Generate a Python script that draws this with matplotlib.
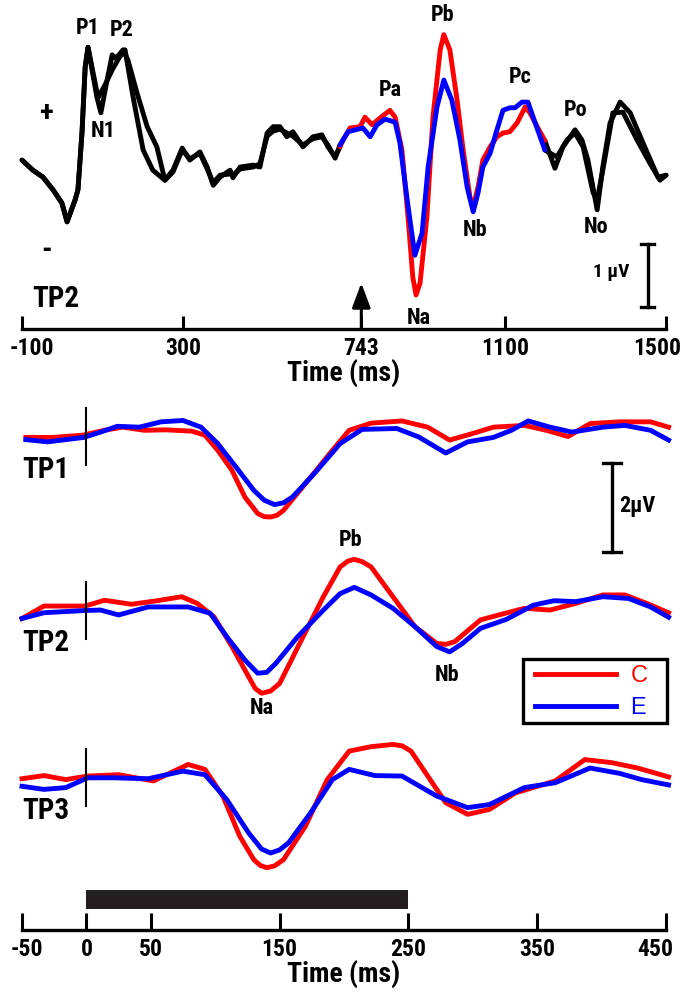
import matplotlib
matplotlib.use("Agg")
import matplotlib.pyplot as plt
import matplotlib.transforms as mtransforms
from matplotlib.patches import Rectangle
import numpy as np

plt.rcParams['font.family'] = ['Liberation Sans Narrow', 'Roboto Condensed', 'DejaVu Sans Condensed',
                               'Liberation Sans', 'DejaVu Sans']
plt.rcParams['font.weight'] = 'bold'

# ---------------- Top panel data (TP2, long epoch) ----------------
top_ticks = [-100, 300, 743, 1100, 1500]
top_C_t = [-100, -73, -48, -23, -1, 12, 32, 39, 49, 57, 64,
           86, 96, 109, 124, 131, 141, 151, 163, 186, 211, 235, 255,
           275, 298, 317, 342, 360, 375, 392, 417, 424, 442, 474, 491, 509, 524, 541, 558, 573, 598, 623, 645, 660, 678, 690,
           698, 715, 740, 752, 770, 784, 814, 827, 844, 859, 871, 879, 889, 906, 921, 939, 948, 963, 981, 996,
           1013, 1021, 1033, 1045, 1063, 1080, 1095, 1112, 1130, 1150, 1162, 1180, 1199,
           1224, 1244, 1274, 1291, 1306, 1329, 1343, 1361, 1386, 1411, 1443, 1480, 1500]
top_C_v = [-0.16, -0.32, -0.43, -0.63, -0.84, -1.14, -0.79, -0.63, 0.27, 1.32, 1.63,
           0.84, 0.59, 1.03, 1.51, 1.46, 1.51, 1.59, 1.43, 0.90, 0.37, 0.05, -0.48,
           -0.32, 0.03, -0.16, -0.03, -0.27, -0.56, -0.43, -0.32, -0.44, -0.27, -0.24, -0.27, 0.27, 0.37, 0.37, 0.21, 0.29, 0.05, 0.21, 0.24, 0.05, -0.11, 0.05,
           0.16, 0.35, 0.37, 0.52, 0.40, 0.48, 0.63, 0.52, 0.0, -1.06, -2.02, -2.30, -2.11, -1.06, 0.52, 1.59, 1.83, 1.59, 0.79, 0.0,
           -0.75, -0.90, -0.59, -0.16, 0.05, 0.21, 0.27, 0.29, 0.43, 0.68, 0.59, 0.37, 0.15,
           -0.29, 0.05, 0.32, 0.16, -0.16, -0.95, -0.27, 0.43, 0.76, 0.59, 0.11, -0.43, -0.40]
top_E_t = [-100, -73, -48, -23, -1, 12, 32, 39, 49, 57, 64,
           89, 106, 124, 141, 156, 176, 201, 225, 255,
           275, 298, 317, 342, 360, 375, 392, 417, 424, 442, 474, 491, 509, 524, 541, 558, 573, 598, 623, 645, 660, 678, 690,
           710, 747, 765, 782, 802, 827, 839, 857, 876, 894, 909, 931, 948, 968, 988, 1006, 1021, 1033, 1045,
           1063, 1080, 1095, 1112, 1125, 1142, 1157, 1170, 1199,
           1212, 1229, 1254, 1274, 1294, 1319, 1329, 1343, 1368, 1393, 1428, 1460, 1485, 1500]
top_E_v = [-0.16, -0.32, -0.43, -0.63, -0.84, -1.14, -0.79, -0.63, 0.27, 1.32, 1.63,
           0.83, 1.03, 1.27, 1.46, 1.59, 0.84, 0.0, -0.32, -0.48,
           -0.35, 0.0, -0.14, -0.05, -0.30, -0.52, -0.40, -0.38, -0.40, -0.30, -0.27, -0.22, 0.22, 0.30, 0.33, 0.27, 0.22, 0.08, 0.18, 0.21, 0.08, -0.13, 0.08,
           0.29, 0.35, 0.21, 0.40, 0.49, 0.44, 0.11, -0.79, -1.67, -1.32, -0.27, 0.68, 1.11, 0.79, 0.16, -0.59, -0.98, -0.68, -0.27,
           -0.05, 0.32, 0.63, 0.67, 0.67, 0.76, 0.76, 0.52, 0.0,
           -0.05, -0.11, 0.16, 0.27, 0.05, -0.68, -0.79, -0.32, 0.59, 0.60, 0.16, -0.21, -0.48, -0.40]
color_window = (690, 1199)

top_labels = ["P1", "P2", "N1", "Pa", "Pb", "Na", "Nb", "Pc", "Po", "No"]
top_label_t = [64, 148, 101, 814, 946, 886, 1025, 1137, 1276, 1326]
top_label_v = [1.94, 1.90, 0.30, 0.95, 2.14, -2.67, -1.27, 1.16, 0.63, -1.22]

# ---------------- Bottom panel data (TP1..TP3, short epoch) ----------------
bot_ticks = [-50, 0, 50, 150, 250, 350, 450]

tp1_C_t = [-47, -26, -3, 14, 28, 45, 62, 82, 92, 102, 113, 123, 133, 138, 143, 148, 153, 170, 191, 204, 221, 245, 265, 282, 299, 316, 340, 357, 374, 391, 414, 438, 452]
tp1_C_v = [-0.01, -0.01, 0.04, 0.15, 0.22, 0.15, 0.16, 0.13, 0.04, -0.30, -0.75, -1.35, -1.72, -1.79, -1.80, -1.76, -1.65, -1.05, -0.30, 0.15, 0.31, 0.36, 0.22, -0.07, 0.07, 0.22, 0.26, 0.15, 0.01, 0.30, 0.34, 0.34, 0.22]
tp1_E_t = [-47, -30, -16, -2, 11, 24, 41, 58, 75, 89, 102, 116, 130, 138, 146, 153, 160, 177, 197, 214, 241, 258, 279, 296, 316, 330, 343, 360, 377, 401, 418, 438, 452]
tp1_E_v = [-0.06, -0.11, -0.06, -0.01, 0.11, 0.24, 0.22, 0.34, 0.37, 0.22, -0.15, -0.67, -1.20, -1.42, -1.52, -1.48, -1.35, -0.82, -0.15, 0.17, 0.19, 0.0, -0.36, -0.11, -0.01, 0.15, 0.36, 0.22, 0.11, 0.22, 0.26, 0.15, -0.07]

tp2_C_t = [-50, -33, -16, -1, 14, 35, 55, 74, 86, 99, 113, 126, 131, 136, 143, 150, 167, 184, 197, 203, 208, 214, 221, 238, 255, 272, 279, 286, 306, 323, 340, 360, 380, 401, 418, 435, 452]
tp2_C_v = [-0.19, 0.09, 0.09, 0.09, 0.22, 0.13, 0.21, 0.30, 0.15, -0.15, -0.82, -1.50, -1.76, -1.87, -1.82, -1.65, -0.67, 0.30, 0.97, 1.10, 1.14, 1.09, 0.97, 0.30, -0.37, -0.75, -0.77, -0.71, -0.22, -0.09, 0.04, 0.0, 0.15, 0.34, 0.34, 0.15, -0.06]
tp2_E_t = [-50, -33, -1, 11, 25, 48, 79, 96, 109, 123, 133, 140, 147, 164, 184, 197, 208, 221, 238, 255, 272, 282, 292, 306, 326, 347, 363, 380, 401, 421, 438, 452]
tp2_E_v = [-0.19, -0.06, -0.01, 0.0, -0.11, 0.07, 0.07, -0.07, -0.60, -1.12, -1.42, -1.40, -1.20, -0.60, 0.0, 0.37, 0.51, 0.34, 0.04, -0.37, -0.82, -0.94, -0.75, -0.41, -0.21, 0.11, 0.21, 0.19, 0.30, 0.26, 0.07, -0.16]

tp3_C_t = [-50, -33, -16, 1, 25, 52, 79, 92, 106, 119, 130, 135, 140, 146, 153, 170, 187, 204, 221, 238, 245, 252, 265, 279, 296, 313, 333, 364, 387, 408, 428, 452]
tp3_C_v = [-0.02, 0.05, -0.04, 0.04, 0.07, -0.07, 0.30, 0.19, -0.41, -1.31, -1.84, -1.97, -2.02, -1.98, -1.84, -1.09, -0.04, 0.60, 0.70, 0.75, 0.72, 0.60, 0.04, -0.56, -0.82, -0.71, -0.34, -0.07, 0.41, 0.34, 0.22, 0.02]
tp3_E_t = [-50, -33, -16, 1, 21, 48, 75, 92, 109, 126, 136, 143, 150, 157, 174, 191, 204, 224, 245, 272, 296, 313, 340, 364, 391, 414, 431, 452]
tp3_E_v = [-0.19, -0.26, -0.22, 0.0, 0.0, -0.02, 0.15, 0.07, -0.49, -1.24, -1.60, -1.69, -1.62, -1.46, -0.79, -0.04, 0.19, 0.05, 0.04, -0.41, -0.67, -0.60, -0.22, -0.11, 0.22, 0.10, -0.04, -0.16]

panels = ["TP1", "TP2", "TP3"]
panel_offsets = [11.08, 7.19, 3.42]   # stacking offsets (uV) in bottom axes
stim_bar = (0, 250)

bot_labels = ["Pb", "Na", "Nb"]
bot_label_t = [205, 136, 280]
bot_label_y = [8.76, 4.99, 5.73]

RED = '#ff0000'
BLUE = '#0000ff'
LW = 3.5

fig = plt.figure(figsize=(6.81, 10), dpi=100)


def shift_end_labels(ax, dx_first, dx_last):
    labs = ax.get_xticklabels()
    labs[0].set_transform(labs[0].get_transform() +
                          mtransforms.ScaledTranslation(dx_first / 100, 0, fig.dpi_scale_trans))
    labs[-1].set_transform(labs[-1].get_transform() +
                           mtransforms.ScaledTranslation(dx_last / 100, 0, fig.dpi_scale_trans))


# ---------------- Top axes ----------------
ax1 = fig.add_axes([22/681, 1 - 329/1000, 644/681, 329/1000])
ax1.set_xlim(-100, 1500)
ax1.set_ylim(-2.84, 2.38)
for s in ['top', 'right', 'left']:
    ax1.spines[s].set_visible(False)
ax1.spines['bottom'].set_linewidth(2.4)
ax1.spines['bottom'].set_capstyle('projecting')
ax1.set_yticks([])
ax1.set_xticks(top_ticks)
ax1.set_xticklabels([str(t) for t in top_ticks])
ax1.tick_params(axis='x', direction='in', length=9.5, width=2.2, pad=6, labelsize=17)
ax1.set_xlabel("Time (ms)", fontsize=20, fontweight='bold', labelpad=-1)
ax1.patch.set_alpha(0)
shift_end_labels(ax1, 10, -9)

for tt, vv, col in [(top_C_t, top_C_v, RED), (top_E_t, top_E_v, BLUE)]:
    t = np.array(tt); v = np.array(vv)
    pre = t <= color_window[0]
    mid = (t >= color_window[0]) & (t <= color_window[1])
    post = t >= color_window[1]
    ax1.plot(t[pre], v[pre], color='black', lw=LW, solid_joinstyle='round', solid_capstyle='round', clip_on=False, zorder=3)
    ax1.plot(t[post], v[post], color='black', lw=LW, solid_joinstyle='round', solid_capstyle='round', clip_on=False, zorder=3)
    ax1.plot(t[mid], v[mid], color=col, lw=LW, solid_joinstyle='round', solid_capstyle='round', clip_on=False, zorder=4)

for lab, lt, lv in zip(top_labels, top_label_t, top_label_v):
    ax1.text(lt, lv, lab, ha='center', va='center', fontsize=16, fontweight='bold')

ax1.text(-40, 0.59, "+", ha='center', va='center', fontsize=21, fontweight='bold')
ax1.text(-40, -1.59, "-", ha='center', va='center', fontsize=21, fontweight='bold')
ax1.text(-75, -2.37, "TP2", ha='left', va='center', fontsize=21, fontweight='bold')

# 1 uV scale bar
ax1.plot([1455, 1455], [-1.49, -2.49], color='black', lw=2.4, clip_on=False)
ax1.plot([1439, 1471], [-1.49, -1.49], color='black', lw=2.4, clip_on=False)
ax1.plot([1439, 1471], [-2.49, -2.49], color='black', lw=2.4, clip_on=False)
ax1.text(1319, -1.94, "1 µV", ha='left', va='center', fontsize=14, fontweight='bold')

# arrow at 743 ms
ax1.annotate('', xy=(743, -2.11), xytext=(743, -2.84),
             arrowprops=dict(arrowstyle='-|>,head_length=0.75,head_width=0.28', lw=2.2,
                             color='black', mutation_scale=20, shrinkA=0, shrinkB=0))

# ---------------- Bottom axes ----------------
ax2 = fig.add_axes([22/681, 1 - 930/1000, 644/681, 550/1000])
ax2.set_xlim(-50, 450)
ax2.set_ylim(0, 12.36)
for s in ['top', 'right', 'left']:
    ax2.spines[s].set_visible(False)
ax2.spines['bottom'].set_linewidth(2.4)
ax2.set_yticks([])
ax2.set_xticks(bot_ticks)
ax2.set_xticklabels([str(t) for t in bot_ticks])
ax2.tick_params(axis='x', direction='in', length=12, width=2.2, pad=6, labelsize=17)
ax2.set_xlabel("Time (ms)", fontsize=20, fontweight='bold', labelpad=-1)
ax2.patch.set_alpha(0)
shift_end_labels(ax2, 5, -11)

series = [(tp1_C_t, tp1_C_v, tp1_E_t, tp1_E_v),
          (tp2_C_t, tp2_C_v, tp2_E_t, tp2_E_v),
          (tp3_C_t, tp3_C_v, tp3_E_t, tp3_E_v)]
handles = None
for (ct, cv, et, ev), name, off in zip(series, panels, panel_offsets):
    hC, = ax2.plot(ct, np.array(cv) + off, color=RED, lw=LW, solid_joinstyle='round', clip_on=False, label='C')
    hE, = ax2.plot(et, np.array(ev) + off, color=BLUE, lw=LW, solid_joinstyle='round', clip_on=False, label='E')
    ax2.plot([0, 0], [off - 0.64, off + 0.64], color='black', lw=1.5)
    ax2.text(-50, off - 0.74, name, ha='left', va='center', fontsize=21, fontweight='bold')
    if name == "TP2":
        handles = [hC, hE]

for lab, lt, ly in zip(bot_labels, bot_label_t, bot_label_y):
    ax2.text(lt, ly, lab, ha='center', va='center', fontsize=16, fontweight='bold')

# 2 uV scale bar
ax2.plot([408, 408], [8.49, 10.49], color='black', lw=2.4)
ax2.plot([401, 415], [8.49, 8.49], color='black', lw=2.4)
ax2.plot([401, 415], [10.49, 10.49], color='black', lw=2.4)
ax2.text(414, 9.53, "2µV", ha='left', va='center', fontsize=16, fontweight='bold')

# stimulus bar
ax2.barh(y=0.685, width=stim_bar[1] - stim_bar[0], left=stim_bar[0], height=0.43,
         color='#231f20', align='center')

# legend (entries) + its frame
leg = ax2.legend(handles=handles, labels=['C', 'E'], loc='upper left',
                 bbox_to_anchor=(535/681, 1 - 665/1000), bbox_transform=fig.transFigure,
                 frameon=False, handlelength=3.45, handletextpad=0.6, labelspacing=0.42,
                 borderpad=0, borderaxespad=0,
                 prop={'family': 'Liberation Sans', 'weight': 'normal', 'size': 17})
for txt, col in zip(leg.get_texts(), [RED, BLUE]):
    txt.set_color(col)
fig.add_artist(Rectangle((523/681, 1 - 723/1000), 144/681, 64/1000, transform=fig.transFigure,
                         fill=False, edgecolor='black', linewidth=2.4, joinstyle='miter'))

fig.savefig("out.png", dpi=100)
